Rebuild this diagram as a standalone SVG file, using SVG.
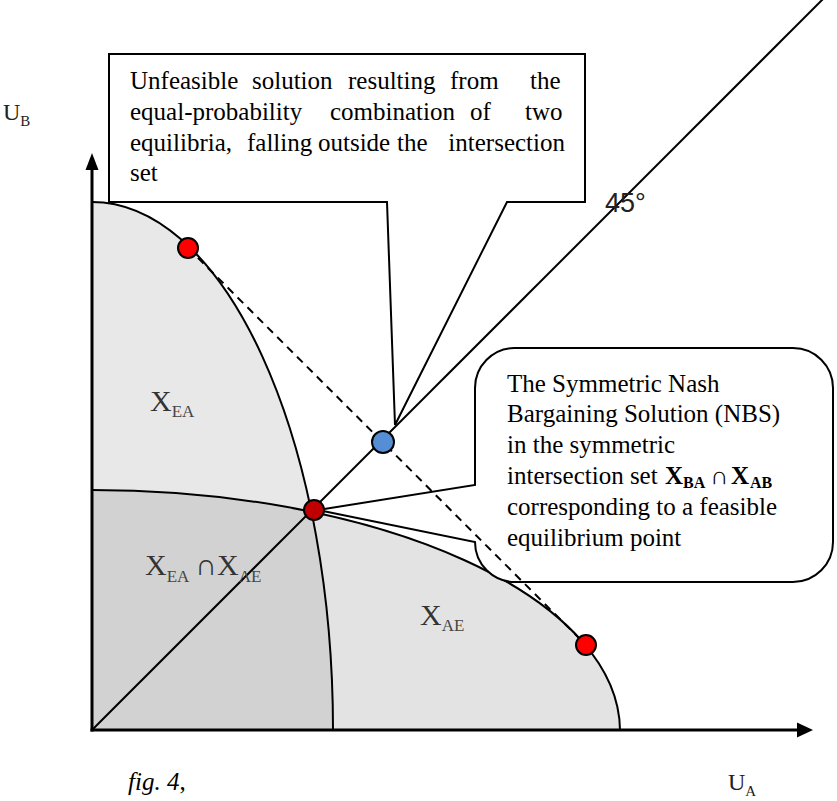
<svg xmlns="http://www.w3.org/2000/svg" width="837" height="801" viewBox="0 0 837 801">
<style>
.ln{fill:none;stroke:#000;stroke-width:2}
.ax{fill:none;stroke:#000;stroke-width:3}
.box{fill:#fff;stroke:#000;stroke-width:2;stroke-linejoin:miter}
.t{font-family:"Liberation Serif","Times New Roman",serif;font-size:25px;fill:#000}
.lab{font-family:"Liberation Serif","Times New Roman",serif;font-size:30px;fill:#333}
.sub{font-size:17px;fill:#444}
.dot{stroke:#000;stroke-width:2}
</style>
<rect width="837" height="801" fill="#fff"/>
<g id="regions">
<path d="M92,730 V202 A241,528 0 0 1 333,730 Z" fill="#e8e8e8"/>
<path d="M92,730 V490 A528,241 0 0 1 620,730 Z" fill="#e3e3e3"/>
<path d="M92,730 V490 A528,241 0 0 1 311,511 A241,528 0 0 1 333,730 Z" fill="#d2d2d2"/>
</g>
<g id="curves">
<path class="ln" d="M92,202 A241,528 0 0 1 333,730"/>
<path class="ln" d="M92,490 A528,241 0 0 1 620,730"/>
</g>
<g id="axes">
<line class="ax" x1="92" y1="731.5" x2="92" y2="166"/>
<polygon points="92,153 85.5,170 98.5,170" fill="#000"/>
<line class="ax" x1="90.5" y1="730" x2="800" y2="730"/>
<polygon points="813,730 797,722.5 797,737.5" fill="#000"/>
</g>
<g id="connectors">
<line class="ln" x1="92" y1="730" x2="837" y2="-15"/>
</g>
<g id="callout-unfeasible">
<polygon class="box" points="109,54 585,54 585,202 507,202 395,425 387,202 109,202"/>
<text class="t" y="89"><tspan x="130">Unfeasible</tspan><tspan x="252">solution</tspan><tspan x="348">resulting</tspan><tspan x="450">from</tspan><tspan x="530">the</tspan></text>
<text class="t" y="120"><tspan x="130">equal-probability</tspan><tspan x="330">combination</tspan><tspan x="470">of</tspan><tspan x="525">two</tspan></text>
<text class="t" y="151"><tspan x="130">equilibria,</tspan><tspan x="247">falling</tspan><tspan x="318">outside</tspan><tspan x="397">the</tspan></text>
<text class="t" y="151" x="565" text-anchor="end">intersection</text>
<text class="t" y="181" x="130">set</text>
</g>
<g id="callout-nbs">
<path class="box" d="M514,348 H793 A40,40 0 0 1 833,388 V542 A40,40 0 0 1 793,582 H515 A40,40 0 0 1 475,542 L318,510 L475,485 V388 A40,40 0 0 1 514,348 Z"/>
<text class="t" x="507" y="392">The Symmetric Nash</text>
<text class="t" x="507" y="422">Bargaining Solution (NBS)</text>
<text class="t" x="507" y="453">in the symmetric</text>
<text class="t" y="484"><tspan x="507">intersection set</tspan><tspan x="665" font-weight="bold">X</tspan><tspan x="683" dy="4" font-size="16" font-weight="bold">BA</tspan><tspan x="710" dy="-4">∩</tspan><tspan x="731" font-weight="bold">X</tspan><tspan x="750" dy="4" font-size="16" font-weight="bold">AB</tspan></text>
<text class="t" x="507" y="515">corresponding to a feasible</text>
<text class="t" x="507" y="546">equilibrium point</text>
</g>
<g id="dashed-combination">
<line x1="188" y1="248" x2="586" y2="645" stroke="#000" stroke-width="2" stroke-dasharray="8,6"/>
</g>
<g id="point-top"><circle class="dot" cx="188" cy="248" r="10" fill="#ff0000"/></g>
<g id="point-bottom"><circle class="dot" cx="586" cy="645" r="10" fill="#ff0000"/></g>
<g id="point-nbs"><circle class="dot" cx="314" cy="510" r="10" fill="#c00000"/></g>
<g id="point-unfeasible"><circle class="dot" cx="383" cy="442" r="11" fill="#558ed5"/></g>
<g id="labels">
<text class="lab" x="150" y="411">X<tspan class="sub" dy="6">EA</tspan></text>
<text class="lab" x="145" y="575">X<tspan class="sub" dy="7">EA</tspan><tspan dx="6" dy="-7" font-size="30">∩</tspan>X<tspan class="sub" dy="7">AE</tspan></text>
<text class="lab" x="420" y="625">X<tspan class="sub" dy="6">AE</tspan></text>
<text x="605" y="212" font-family="'Liberation Sans',Arial,sans-serif" font-size="27" fill="#222">45°</text>
<text x="3" y="120" font-family="'Liberation Serif','Times New Roman',serif" font-size="24" fill="#222">U<tspan dy="6" font-size="15">B</tspan></text>
<text x="728" y="790" font-family="'Liberation Serif','Times New Roman',serif" font-size="24" fill="#222">U<tspan dy="6" font-size="15">A</tspan></text>
<text x="128" y="790" font-family="'Liberation Serif','Times New Roman',serif" font-size="25" font-style="italic" fill="#000">fig. 4<tspan font-style="normal">,</tspan></text>
</g>
</svg>
